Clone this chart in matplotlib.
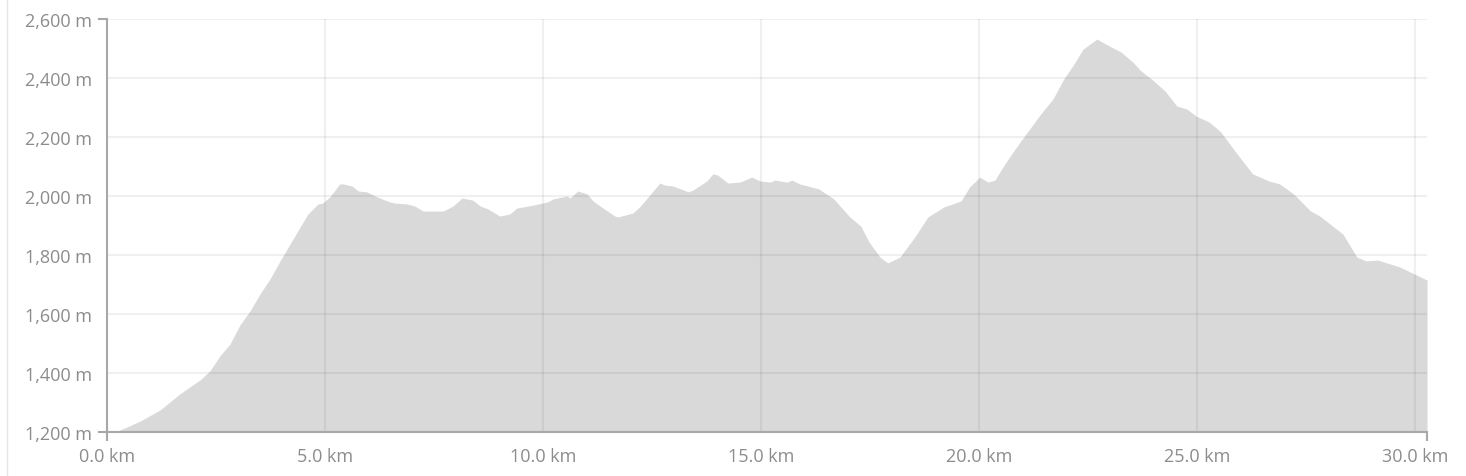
import matplotlib.pyplot as plt
from matplotlib.lines import Line2D
from matplotlib.ticker import FuncFormatter

# elevation profile
dist_km = [0.00, 0.23, 0.41, 0.76, 1.22, 1.67, 2.13, 2.36, 2.59, 2.82,
           3.05, 3.28, 3.51, 3.74, 3.97, 4.20, 4.43, 4.61, 4.84, 4.95,
           5.11, 5.34, 5.41, 5.62, 5.76, 5.96, 6.15, 6.31, 6.49, 6.61,
           6.88, 7.06, 7.25, 7.36, 7.71, 7.94, 8.14, 8.39, 8.56, 8.74,
           9.01, 9.24, 9.40, 9.77, 10.11, 10.23, 10.55, 10.62, 10.80, 11.01,
           11.15, 11.38, 11.65, 11.72, 12.06, 12.22, 12.45, 12.68, 12.80, 12.98,
           13.33, 13.44, 13.76, 13.90, 14.01, 14.24, 14.52, 14.79, 14.98, 15.21,
           15.32, 15.60, 15.71, 15.89, 16.33, 16.67, 17.04, 17.29, 17.48, 17.73,
           17.91, 18.19, 18.53, 18.83, 19.20, 19.59, 19.79, 20.02, 20.21, 20.37,
           20.55, 20.80, 21.08, 21.42, 21.70, 21.95, 22.18, 22.39, 22.71, 22.91,
           23.26, 23.53, 23.72, 24.01, 24.27, 24.54, 24.77, 24.98, 25.28, 25.55,
           25.89, 26.28, 26.65, 26.90, 27.22, 27.61, 27.82, 28.35, 28.67, 28.88,
           29.15, 29.66, 30.28]
elev_m = [1200, 1203, 1214, 1237, 1275, 1329, 1376, 1407, 1458, 1498,
          1563, 1610, 1668, 1719, 1780, 1837, 1895, 1939, 1973, 1976,
          1997, 2041, 2041, 2034, 2017, 2014, 2000, 1990, 1980, 1976,
          1973, 1966, 1949, 1949, 1949, 1966, 1993, 1986, 1966, 1956,
          1932, 1939, 1959, 1969, 1980, 1990, 2000, 1993, 2017, 2007,
          1983, 1959, 1932, 1929, 1942, 1963, 2003, 2044, 2037, 2034,
          2014, 2020, 2051, 2075, 2071, 2044, 2047, 2064, 2051, 2047,
          2054, 2047, 2054, 2041, 2024, 1990, 1929, 1898, 1844, 1793,
          1773, 1793, 1861, 1929, 1963, 1983, 2031, 2064, 2047, 2054,
          2098, 2153, 2210, 2278, 2329, 2397, 2447, 2498, 2532, 2515,
          2488, 2454, 2424, 2390, 2356, 2305, 2295, 2271, 2251, 2217,
          2149, 2075, 2051, 2041, 2007, 1949, 1932, 1871, 1793, 1780,
          1783, 1759, 1715]

x_ticks = [0, 5, 10, 15, 20, 25, 30]
y_ticks = [1200, 1400, 1600, 1800, 2000, 2200, 2400, 2600]

plt.rcParams['font.family'] = ['Open Sans', 'DejaVu Sans']

W, H = 1466, 477
fig = plt.figure(figsize=(W / 100, H / 100), dpi=100)
ax_l, ax_r, ax_t, ax_b = 107, 1427, 20, 433
ax = fig.add_axes([ax_l / W, 1 - ax_b / H, (ax_r - ax_l) / W, (ax_b - ax_t) / H])

ax.fill_between(dist_km, elev_m, 1200, color='#d9d9d9', lw=0, zorder=1)

ax.set_xlim(0, dist_km[-1])
ax.set_ylim(1200, 2600)
ax.set_xticks(x_ticks)
ax.set_yticks(y_ticks)
ax.xaxis.set_major_formatter(FuncFormatter(lambda v, p: f"{v:.1f} km"))
ax.yaxis.set_major_formatter(FuncFormatter(lambda v, p: f"{v:,.0f} m"))
ax.tick_params(length=0, labelsize=13, labelcolor='#8c8c8c')
ax.tick_params(axis='y', pad=11)
ax.tick_params(axis='x', pad=11)

# grid sits over the fill, slightly darker there
ax.grid(True, color='black', alpha=0.06, lw=1.5, zorder=2)
ax.set_axisbelow(False)

for s in ['top', 'right']:
    ax.spines[s].set_visible(False)
for s in ['left', 'bottom']:
    ax.spines[s].set_color('#a8a8a8')
    ax.spines[s].set_linewidth(1.5)
    ax.spines[s].set_zorder(3)

# outer ticks at the ends of each axis
tx = 8 / (ax_r - ax_l)
ty = 8 / (ax_b - ax_t)
sp = dict(color='#a8a8a8', lw=1.5, clip_on=False, transform=ax.transAxes, zorder=3)
ax.add_line(Line2D([-tx, 0], [0, 0], **sp))
ax.add_line(Line2D([-tx, 0], [1, 1], **sp))
ax.add_line(Line2D([0, 0], [0, -ty], **sp))
ax.add_line(Line2D([1, 1], [0, -ty], **sp))

# faint page border on the left
fig.add_artist(Line2D([7 / W, 7 / W], [0, 1], color='#e6e6e6', lw=1,
                      transform=fig.transFigure))

fig.savefig('out.png', dpi=100, facecolor='white')
